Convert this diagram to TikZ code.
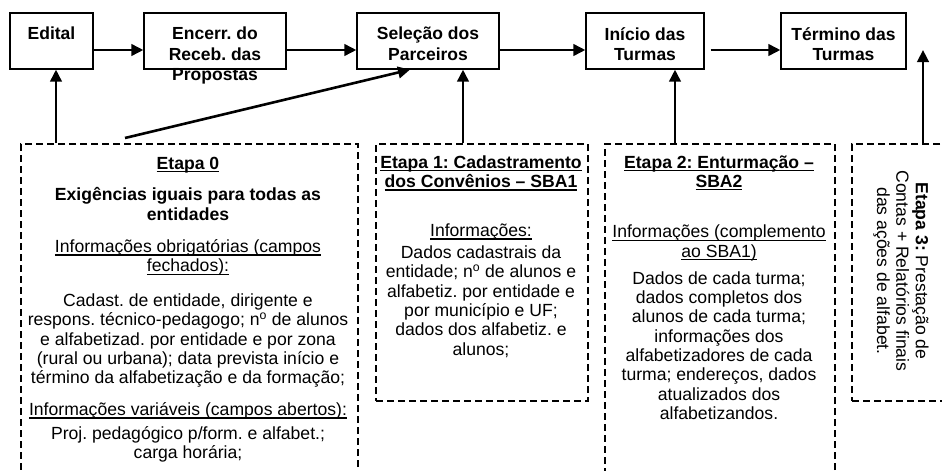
\documentclass[tikz,border=0pt]{standalone}
\usepackage{fontspec}
\setmainfont{Liberation Sans}
\usepackage{tikz}
\usetikzlibrary{arrows.meta}

\newcommand{\ulin}[1]{\leavevmode\setbox0=\hbox{#1}\rlap{\rule[-3pt]{\wd0}{1.3pt}}\box0}

\tikzset{
  stepbox/.style={draw, line width=1.3pt, minimum height=56pt, inner sep=0pt},
  stagebox/.style={draw, line width=2pt, dash pattern=on 7pt off 4pt, anchor=north west, inner sep=0pt},
  flow/.style={line width=2.6pt, -{Triangle[length=12pt,width=11.5pt]}},
  boxtext/.style={anchor=north, align=center, inner sep=0pt, font=\bfseries\fontsize{17.5}{20.5}\selectfont},
  info/.style={align=center, inner sep=0pt, font=\fontsize{17.6}{19.3}\selectfont},
}

\begin{document}
\frenchspacing
\begin{tikzpicture}[x=1pt,y=-1pt]
\useasboundingbox (0,0) rectangle (942,471);
\clip (0,0) rectangle (942,471);

% top row
\node[stepbox, minimum width=83pt] (edital) at (51.5,41) {};
\node[stepbox, minimum width=142pt] (encerr) at (215,41) {};
\node[stepbox, minimum width=142pt] (selecao) at (428,41) {};
\node[stepbox, minimum width=118pt] (inicio) at (645,41) {};
\node[stepbox, minimum width=125pt] (termino) at (843.5,41) {};

\node[boxtext] (editaltxt) at (51.5,27) {Edital};
\node[boxtext] (encerrtxt) at (215,27) {Encerr. do\\Receb. das\\Propostas};
\node[boxtext] (selecaotxt) at (428,27) {Seleção dos\\Parceiros};
\node[boxtext] (iniciotxt) at (645,27) {Início das\\Turmas};
\node[boxtext] (terminotxt) at (843.5,27) {Término das\\Turmas};

\draw[flow] ([yshift=-9pt]edital.east) -- ([yshift=-9pt]encerr.west);
\draw[flow] ([yshift=-9pt]encerr.east) -- ([yshift=-9pt]selecao.west);
\draw[flow] ([yshift=-9pt]selecao.east) -- ([yshift=-9pt]inicio.west);
\draw[flow] ([yshift=-9pt,xshift=6pt]inicio.east) -- ([yshift=-9pt]termino.west);

% stages
\node[stagebox, minimum width=337pt, minimum height=360pt] (etapa0) at (20,143) {};
\node[stagebox, minimum width=212pt, minimum height=257pt] (etapa1) at (375,143) {};
\node[stagebox, minimum width=230pt, minimum height=360pt] (etapa2) at (604,143) {};
\node[stagebox, minimum width=130pt, minimum height=257pt] (etapa3) at (851,143) {};

\coordinate (a0) at ([xshift=4.5pt]edital.south);
\draw[flow] (etapa0.north -| a0) -- (a0);
\coordinate (d0) at (125,138);
\draw[flow] (d0) -- ([xshift=-18pt]selecao.south);
\coordinate (a1) at ([xshift=35pt]selecao.south);
\draw[flow] (etapa1.north -| a1) -- (a1);
\coordinate (a2) at ([xshift=30pt]inicio.south);
\draw[flow] (etapa2.north -| a2) -- (a2);
\coordinate (a3) at (923,50);
\draw[flow] (etapa3.north -| a3) -- (a3);

% etapa 0
\node[info] (e0head) at (188,165) {\ulin{\textbf{Etapa 0}}};
\node[info, font=\bfseries\fontsize{17.6}{19.3}\selectfont] (e0sub) at (188,204) {Exigências iguais para todas as\\entidades};
\node[info] (e0obr) at (188,257.5) {\ulin{Informações obrigatórias (campos}\\\ulin{fechados):}};
\node[info] (e0body) at (188,340.5) {Cadast. de entidade, dirigente e\\respons. técnico-pedagogo; n\textsuperscript{o} de alunos\\e alfabetizad. por entidade e por zona\\(rural ou urbana); data prevista início e\\término da alfabetização e da formação;};
\node[info] (e0var) at (188,411) {\ulin{Informações variáveis (campos abertos):}};
\node[info] (e0proj) at (188,444) {Proj. pedagógico p/form. e alfabet.;\\carga horária;};

% etapa 1
\node[info] (e1head) at (481,173) {\ulin{\textbf{Etapa 1: Cadastramento}}\\\ulin{\textbf{dos Convênios – SBA1}}};
\node[info] (e1inf) at (481,232) {\ulin{Informações:}};
\node[info] (e1body) at (481,301.5) {Dados cadastrais da\\entidade; n\textsuperscript{o} de alunos e\\alfabetiz. por entidade e\\por município e UF;\\dados dos alfabetiz. e\\alunos;};

% etapa 2
\node[info] (e2head) at (719,173) {\ulin{\textbf{Etapa 2: Enturmação –}}\\\ulin{\textbf{SBA2}}};
\node[info] (e2inf) at (719,243) {\ulin{Informações (complemento}\\\ulin{ao SBA1)}};
\node[info] (e2body) at (719,345.5) {Dados de cada turma;\\dados completos dos\\alunos de cada turma;\\informações dos\\alfabetizadores de cada\\turma; endereços, dados\\atualizados dos\\alfabetizandos.};

% etapa 3
\node[info, rotate=-90] (e3txt) at (901,271) {\textbf{Etapa 3:} Prestação de\\Contas + Relatórios finais\\das ações de alfabet.};

\end{tikzpicture}
\end{document}
